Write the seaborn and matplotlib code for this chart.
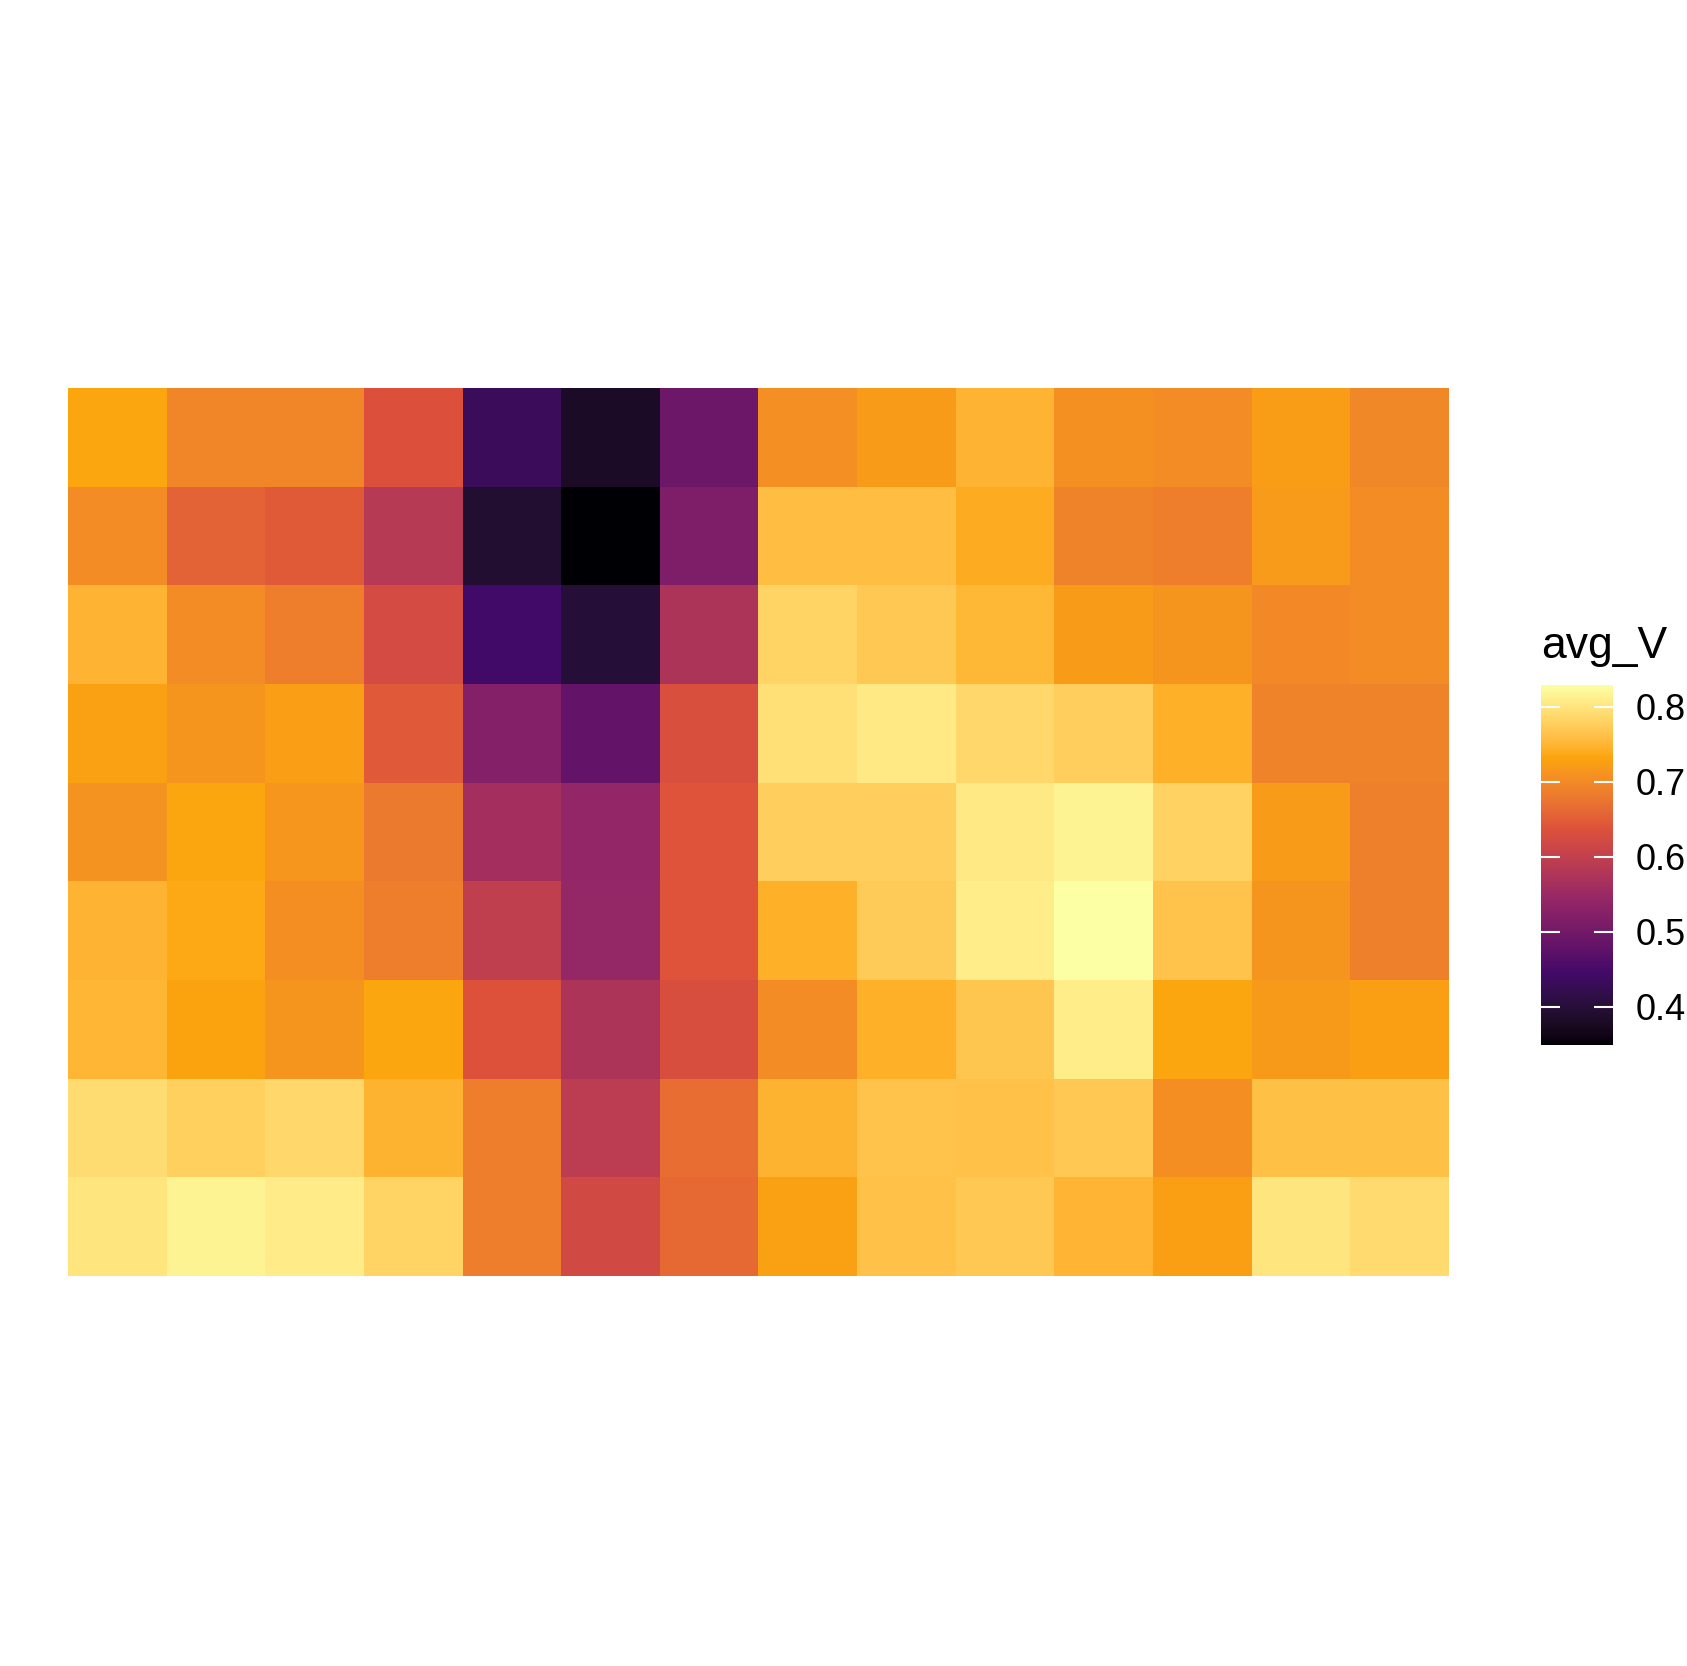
import numpy as np
import pandas as pd
import seaborn as sns
import matplotlib.pyplot as plt
from matplotlib.colors import ListedColormap

# cell values, top row first
row1 = [0.734, 0.695, 0.695, 0.635, 0.432, 0.380, 0.493, 0.706, 0.721, 0.749, 0.707, 0.702, 0.723, 0.697]
row2 = [0.702, 0.656, 0.646, 0.587, 0.393, 0.349, 0.514, 0.758, 0.758, 0.740, 0.692, 0.686, 0.719, 0.702]
row3 = [0.749, 0.702, 0.686, 0.623, 0.445, 0.398, 0.574, 0.782, 0.770, 0.752, 0.721, 0.713, 0.699, 0.703]
row4 = [0.726, 0.713, 0.724, 0.645, 0.522, 0.482, 0.632, 0.796, 0.805, 0.786, 0.776, 0.744, 0.692, 0.692]
row5 = [0.710, 0.734, 0.714, 0.681, 0.561, 0.541, 0.639, 0.776, 0.776, 0.805, 0.815, 0.781, 0.721, 0.689]
row6 = [0.749, 0.736, 0.705, 0.686, 0.597, 0.543, 0.639, 0.744, 0.773, 0.809, 0.829, 0.765, 0.713, 0.689]
row7 = [0.751, 0.730, 0.713, 0.734, 0.637, 0.574, 0.631, 0.702, 0.744, 0.768, 0.809, 0.734, 0.720, 0.725]
row8 = [0.791, 0.778, 0.786, 0.748, 0.686, 0.592, 0.666, 0.748, 0.765, 0.763, 0.769, 0.705, 0.761, 0.761]
row9 = [0.800, 0.815, 0.808, 0.783, 0.686, 0.620, 0.663, 0.726, 0.763, 0.770, 0.750, 0.725, 0.800, 0.789]

cbar_ticks = [0.4, 0.5, 0.6, 0.7, 0.8]
v_min, v_max = 0.349, 0.829

# ggplot's viridis "inferno" scale: 6 stops blended in CIELAB
stops = ['#000004', '#420A68', '#932667', '#DD513A', '#FCA50A', '#FCFFA4']

M = np.array([[0.4124564, 0.3575761, 0.1804375],
              [0.2126729, 0.7151522, 0.0721750],
              [0.0193339, 0.1191920, 0.9503041]])
WHITE = np.array([0.95047, 1.0, 1.08883])


def to_lab(hexes):
    rgb = np.array([[int(h[i:i + 2], 16) / 255 for i in (1, 3, 5)] for h in hexes])
    lin = np.where(rgb <= 0.04045, rgb / 12.92, ((rgb + 0.055) / 1.055) ** 2.4)
    xyz = lin @ M.T / WHITE
    f = np.where(xyz > 216 / 24389, np.cbrt(xyz), (24389 / 27 * xyz + 16) / 116)
    return np.stack([116 * f[:, 1] - 16, 500 * (f[:, 0] - f[:, 1]), 200 * (f[:, 1] - f[:, 2])], axis=1)


def from_lab(lab):
    fy = (lab[:, 0] + 16) / 116
    fx = fy + lab[:, 1] / 500
    fz = fy - lab[:, 2] / 200
    f = np.stack([fx, fy, fz], axis=1)
    xyz = np.where(f ** 3 > 216 / 24389, f ** 3, (116 * f - 16) / (24389 / 27)) * WHITE
    lin = xyz @ np.linalg.inv(M).T
    lin = np.clip(lin, 0, 1)
    rgb = np.where(lin <= 0.0031308, 12.92 * lin, 1.055 * lin ** (1 / 2.4) - 0.055)
    return np.clip(rgb, 0, 1)


lab = to_lab(stops)
pos = np.linspace(0, 1, len(stops))
t = np.linspace(0, 1, 512)
lab_t = np.stack([np.interp(t, pos, lab[:, k]) for k in range(3)], axis=1)
cmap = ListedColormap(from_lab(lab_t))

grid = pd.DataFrame([row1, row2, row3, row4, row5, row6, row7, row8, row9])

plt.rcParams['font.family'] = ['Liberation Sans', 'DejaVu Sans']

fig = plt.figure(figsize=(16.87, 16.66), dpi=100)
fig.patch.set_facecolor('white')
ax = fig.add_axes([0.0403, 0.2341, 0.8186, 0.5330])
cax = fig.add_axes([0.9134, 0.3727, 0.0427, 0.2161])

sns.heatmap(grid, ax=ax, cbar_ax=cax, cmap=cmap, vmin=v_min, vmax=v_max,
            xticklabels=False, yticklabels=False,
            cbar_kws={'ticks': cbar_ticks})
ax.tick_params(left=False, bottom=False)

# colorbar styling: white inner ticks on both sides, labels at right
cax.set_yticks(cbar_ticks)
cax.set_yticklabels(['0.4', '0.5', '0.6', '0.7', '0.8'], fontsize=26)
cax.tick_params(axis='y', direction='in', labelcolor='black', color='white',
                length=14, width=1.5, left=True, right=True,
                labelleft=False, labelright=True, pad=16)
for s in cax.spines.values():
    s.set_visible(False)

fig.text(0.9134, 0.605, 'avg_V', fontsize=32, ha='left', va='baseline')

fig.savefig('out.png', dpi=100, facecolor='white')
